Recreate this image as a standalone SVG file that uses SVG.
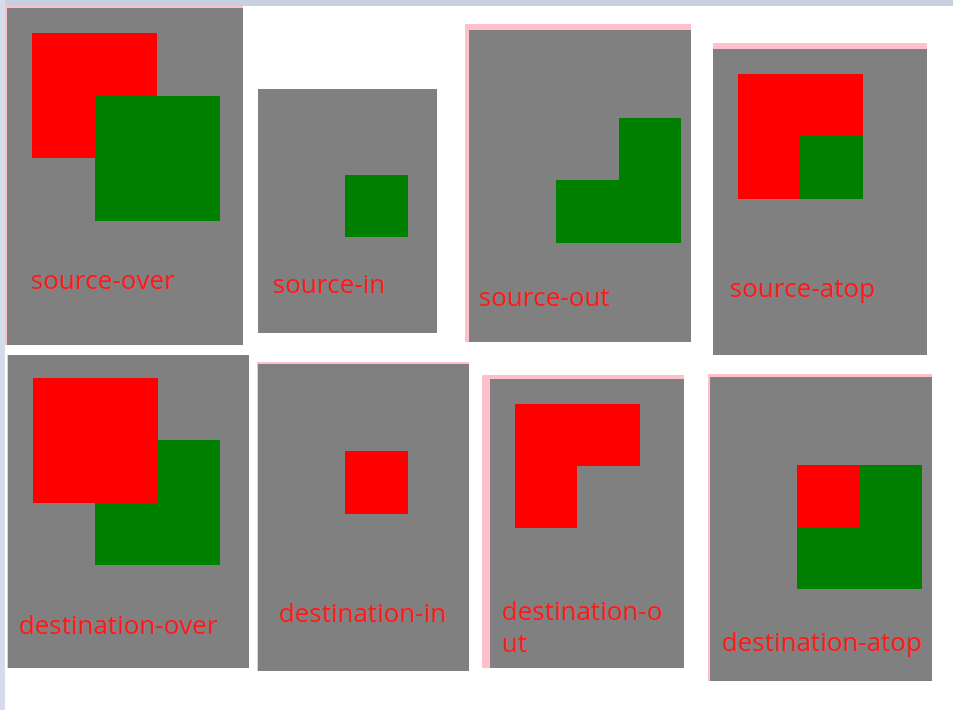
<svg xmlns="http://www.w3.org/2000/svg" width="953" height="710" viewBox="0 0 953 710">
<style>
.pk{fill:#ffc0cb}
.gr{fill:#808080}
.r{fill:#ff0000}
.g{fill:#008000}
text{font-family:"Open Sans","Noto Sans",sans-serif;font-size:26px;fill:#ff1a1a}
</style>
<rect x="0" y="0" width="953" height="710" fill="#ffffff"/>
<rect x="0" y="0" width="953" height="6" fill="#c8d0e0"/>
<rect x="0" y="0" width="5" height="710" fill="#d4dcea"/>
<g id="source-over">
<rect class="pk" x="5" y="6" width="238" height="339"/>
<rect class="gr" x="7" y="8" width="236" height="337"/>
<rect class="r" x="32" y="33" width="125" height="125"/>
<rect class="g" x="95" y="96" width="125" height="125"/>
<text x="31" y="289">source-over</text>
</g>
<g id="source-in">
<rect class="gr" x="258" y="89" width="179" height="244"/>
<rect class="g" x="345" y="175" width="63" height="62"/>
<text x="273" y="293">source-in</text>
</g>
<g id="source-out">
<rect class="pk" x="465" y="24" width="226" height="318"/>
<rect class="gr" x="469" y="30" width="222" height="312"/>
<path class="g" d="M619 118H681V243H556V180H619Z"/>
<text x="479" y="306">source-out</text>
</g>
<g id="source-atop">
<rect class="pk" x="713" y="43" width="214" height="312"/>
<rect class="gr" x="713" y="49" width="214" height="306"/>
<rect class="r" x="738" y="74" width="125" height="125"/>
<rect class="g" x="800" y="136" width="63" height="63"/>
<text x="730" y="297">source-atop</text>
</g>
<g id="destination-over">
<rect class="pk" x="7" y="355" width="242" height="313"/>
<rect class="gr" x="8" y="355" width="241" height="313"/>
<rect class="g" x="95" y="440" width="125" height="125"/>
<rect class="r" x="33" y="378" width="125" height="125"/>
<text x="19" y="634">destination-over</text>
</g>
<g id="destination-in">
<rect class="pk" x="257" y="362" width="212" height="309"/>
<rect class="gr" x="258" y="364" width="211" height="307"/>
<rect class="r" x="345" y="451" width="63" height="63"/>
<text x="279" y="622">destination-in</text>
</g>
<g id="destination-out">
<rect class="pk" x="482" y="375" width="202" height="293"/>
<rect class="gr" x="490" y="379" width="194" height="289"/>
<path class="r" d="M515 404H640V466H577V528H515Z"/>
<text x="502" y="620">destination-o</text>
<text x="502" y="652">ut</text>
</g>
<g id="destination-atop">
<rect class="pk" x="708" y="374" width="224" height="307"/>
<rect class="gr" x="710" y="377" width="222" height="304"/>
<rect class="g" x="797" y="465" width="125" height="124"/>
<rect class="r" x="797" y="465" width="62" height="62"/>
<text x="722" y="651">destination-atop</text>
</g>
<g id="connectors"/>
</svg>
